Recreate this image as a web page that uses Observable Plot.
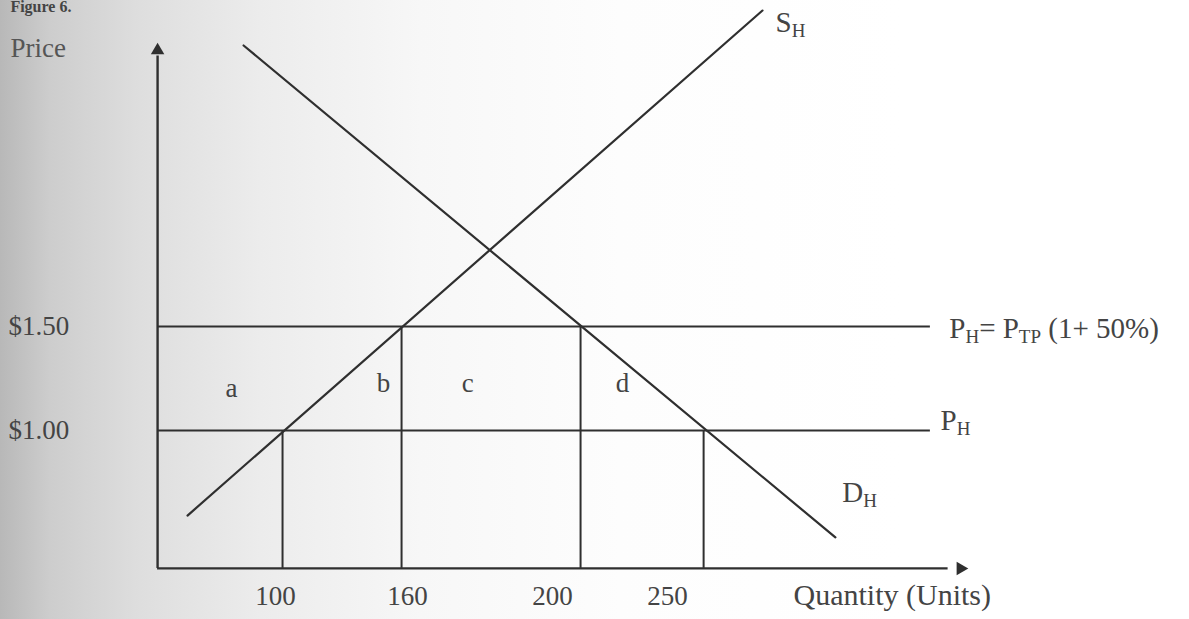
<!DOCTYPE html>
<html>
<head>
<meta charset="utf-8">
<script src="https://cdn.jsdelivr.net/npm/d3@7"></script>
<script src="https://cdn.jsdelivr.net/npm/@observablehq/plot@0.6"></script>
<style>
  html, body { margin: 0; padding: 0; }
  body {
    width: 1189px; height: 619px; overflow: hidden;
    background: linear-gradient(to right, #b8b8b8 0px, #cdcdcd 50px, #dedede 140px, #ececec 260px, #f7f7f7 420px, #fdfdfd 620px, #ffffff 900px);
  }
</style>
</head>
<body>
<div id="chart"></div>
<script>
// ---- data ----
const qTicks = [100, 160, 200, 250];
const qTickLabels = ["100", "160", "200", "250"];
const priceLevels = [1.00, 1.50];
const priceLabels = ["$1.00", "$1.50"];

// supply curve S_H (endpoints)
const supplyQ = [60, 291.3];
const supplyP = [0.591, 3.019];
// demand curve D_H (endpoints)
const demandQ = [85.5, 323.0];
const demandP = [2.851, 0.486];

// vertical drop lines at the intersections
const dropQ = [103.2, 157.3, 212.2, 265.7];
const dropP = [1.00, 1.50, 1.50, 1.00];

// area labels
const areaLabels = ["a", "b", "c", "d"];
const areaQ = [80, 149.1, 176.6, 230.4];
const areaP = [1.202, 1.226, 1.226, 1.226];

// axis extents
const axisQ0 = 46.4, axisQ1 = 372, arrowQ = 377.4;
const axisP0 = 0.337, axisP1 = 2.80, arrowP = 2.827;
const hLineQ1 = 364.3;

// curve / axis labels (text, quantity, price)
const curveLabels = ["S{H}", "P{H}= P{TP} (1+ 50%)", "P{H}", "D{H}"];
const curveLabelQ = [297, 372.5, 368.7, 326];
const curveLabelP = [2.962, 1.49, 1.048, 0.702];

const ink = "#2f2f2f";
const textInk = "#444444";

// ---- build rows ----
const supply = supplyQ.map((q, i) => ({q, p: supplyP[i]}));
const demand = demandQ.map((q, i) => ({q, p: demandP[i]}));
const drops = dropQ.map((q, i) => ({q, p1: axisP0, p2: dropP[i]}));
const hLines = priceLevels.map(p => ({p, q1: axisQ0, q2: hLineQ1}));
const areas = areaLabels.map((t, i) => ({t, q: areaQ[i], p: areaP[i]}));
const ticks = qTicks.map((q, i) => ({q, t: qTickLabels[i]}));
const pLabs = priceLevels.map((p, i) => ({p, t: priceLabels[i]}));
const cLabs = curveLabels.map((t, i) => ({t, q: curveLabelQ[i], p: curveLabelP[i]}));

const font = "Liberation Serif, Times New Roman, serif";

const svg = Plot.plot({
  width: 1189,
  height: 619,
  margin: 0,
  style: {background: "transparent", fontFamily: font, color: textInk, overflow: "visible"},
  x: {type: "linear", domain: qTicks, range: [275, 407, 552, 667], axis: null},
  y: {type: "linear", domain: [1, 1.5], range: [430, 326], axis: null},
  marks: [
    // axes
    Plot.ruleX([{q: axisQ0, p1: axisP0, p2: axisP1}], {x: "q", y1: "p1", y2: "p2", stroke: ink, strokeWidth: 2.4}),
    Plot.ruleY([{p: axisP0, q1: axisQ0, q2: axisQ1}], {y: "p", x1: "q1", x2: "q2", stroke: ink, strokeWidth: 2.4}),
    Plot.dot([{q: axisQ0, p: arrowP}], {x: "q", y: "p", symbol: "triangle", r: 5, fill: ink, stroke: "none"}),
    Plot.dot([{q: arrowQ, p: axisP0}], {x: "q", y: "p", symbol: "triangle", r: 5, rotate: 90, fill: ink, stroke: "none"}),
    // price levels
    Plot.ruleY(hLines, {y: "p", x1: "q1", x2: "q2", stroke: ink, strokeWidth: 2.2}),
    // drop lines
    Plot.ruleX(drops, {x: "q", y1: "p1", y2: "p2", stroke: ink, strokeWidth: 2}),
    // curves
    Plot.line(supply, {x: "q", y: "p", stroke: ink, strokeWidth: 2.2}),
    Plot.line(demand, {x: "q", y: "p", stroke: ink, strokeWidth: 2.2}),
    // tick labels
    Plot.text(ticks, {x: "q", y: 0.202, text: "t", fontSize: 27, fill: textInk}),
    Plot.text(pLabs, {x: -21.4, y: "p", text: "t", textAnchor: "start", fontSize: 27, fill: textInk}),
    Plot.text(["Quantity (Units)"], {x: 304.8, y: 0.207, text: d => d, textAnchor: "start", fontSize: 30, fill: textInk}),
    Plot.text(["Price"], {x: -20.5, y: 2.837, text: d => d, textAnchor: "start", fontSize: 27, fill: "#555"}),
    Plot.text(["Figure 6."], {x: -20.5, y: 3.067, text: d => d, textAnchor: "start", lineAnchor: "top", fontSize: 16, fontWeight: "bold", fill: "#444"}),
    // area labels
    Plot.text(areas, {x: "q", y: "p", text: "t", fontSize: 27, fill: textInk}),
    // curve labels
    Plot.text(cLabs, {x: "q", y: "p", text: "t", textAnchor: "start", fontSize: 29, fill: textInk})
  ]
});

// render {X} as subscripts
d3.select(svg).selectAll("text").each(function() {
  const t = this.textContent;
  if (!t.includes("{")) return;
  const parts = t.split(/\{([^}]*)\}/);
  this.textContent = "";
  let shifted = false;
  parts.forEach((s, i) => {
    if (!s) return;
    const ts = d3.select(this).append("tspan").text(s);
    if (i % 2 === 1) {
      ts.attr("font-size", "19");
      if (!shifted) ts.attr("dy", "5");
      shifted = true;
    } else if (shifted) {
      ts.attr("dy", "-5");
      shifted = false;
    }
  });
});

document.getElementById("chart").appendChild(svg);
</script>
</body>
</html>
